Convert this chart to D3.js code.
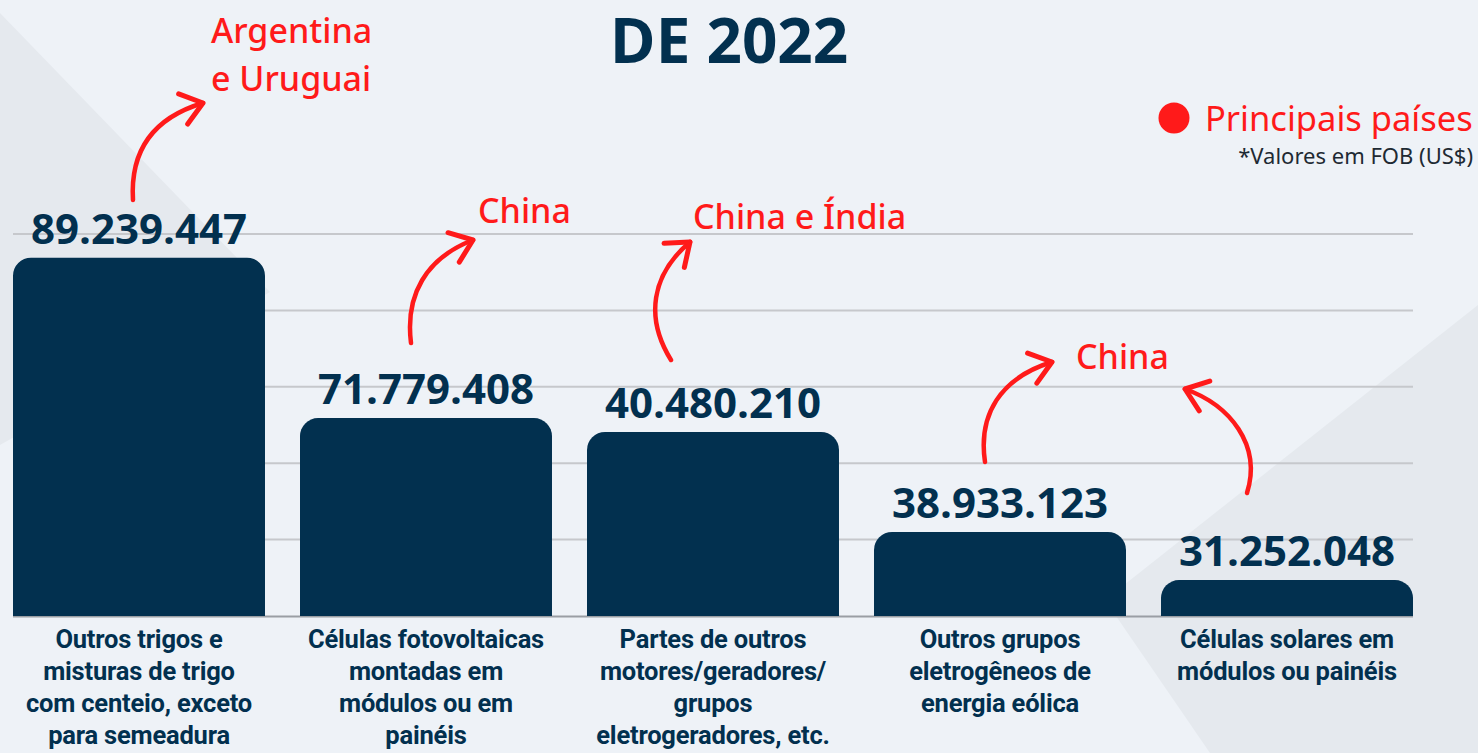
<!DOCTYPE html>
<html>
<head>
<meta charset="utf-8">
<script src="https://cdn.jsdelivr.net/npm/d3@7"></script>
<style>
html, body { margin: 0; padding: 0; background: #eef2f7; }
svg { display: block; }
</style>
</head>
<body>
<svg id="chart" width="1478" height="753"></svg>
<script>
"use strict";

// --- data ---
var categories = [
    'Outros trigos e\nmisturas de trigo\ncom centeio, exceto\npara semeadura',
    'Células fotovoltaicas\nmontadas em\nmódulos ou em\npainéis',
    'Partes de outros\nmotores/geradores/\ngrupos\neletrogeradores, etc.',
    'Outros grupos\neletrogêneos de\nenergia eólica',
    'Células solares em\nmódulos ou painéis'
];
var values = [89239447, 71779408, 40480210, 38933123, 31252048];
var countries = ['Argentina\ne Uruguai', 'China', 'China e Índia', 'China', 'China'];
var gridTicks = [0, 1, 2, 3, 4, 5];

var NAVY = '#02304f';
var RED = '#ff1a1a';

var svg = d3.select('#chart');

// background shading
svg.append('rect').attr('width', 1478).attr('height', 753).attr('fill', '#eef2f7');
svg.append('path').attr('d', 'M0,13L270,292L0,445Z').attr('fill', '#e5e9ee');
svg.append('path').attr('d', 'M1478,305L1105,600L1210,753L1478,753Z').attr('fill', '#e5e9ee');

// the bars are not drawn to scale in the original, so values go through a
// piecewise display scale (value -> grid level) before the pixel scale
var sorted = values.slice().sort(d3.ascending);
var level = d3.scaleLinear()
    .domain([0].concat(sorted))
    .range([0, 0.47, 1.10, 2.41, 2.59, 4.69]);

var x = d3.scaleBand()
    .domain(d3.range(categories.length))
    .range([13, 1413])
    .paddingInner(0.122)
    .paddingOuter(0);

var y = d3.scaleLinear().domain([0, 5]).range([616, 234]);

// grid
svg.append('g')
    .selectAll('line')
    .data(gridTicks.slice(1))
    .join('line')
        .attr('x1', 13).attr('x2', 1413)
        .attr('y1', function(d) { return y(d); })
        .attr('y2', function(d) { return y(d); })
        .attr('stroke', '#c6c8cc')
        .attr('stroke-width', 2);

svg.append('line')
    .attr('x1', 13).attr('x2', 1413)
    .attr('y1', y(0) + 0.5).attr('y2', y(0) + 0.5)
    .attr('stroke', '#9a9ea4')
    .attr('stroke-width', 2);

function topRounded(x0, y0, w, y1, r) {
    return 'M' + x0 + ',' + y1 +
        'V' + (y0 + r) +
        'A' + r + ',' + r + ' 0 0 1 ' + (x0 + r) + ',' + y0 +
        'H' + (x0 + w - r) +
        'A' + r + ',' + r + ' 0 0 1 ' + (x0 + w) + ',' + (y0 + r) +
        'V' + y1 + 'Z';
}

// bars
svg.append('g')
    .selectAll('path')
    .data(values)
    .join('path')
        .attr('d', function(d, i) {
            return topRounded(x(i), y(level(d)), x.bandwidth(), y(0), 18);
        })
        .attr('fill', NAVY);

// value labels
var fmt = function(v) { return d3.format(',')(v).replace(/,/g, '.'); };

svg.append('g')
    .selectAll('text')
    .data(values)
    .join('text')
        .attr('x', function(d, i) { return x(i) + x.bandwidth() / 2; })
        .attr('y', function(d) { return y(level(d)) - 14; })
        .attr('text-anchor', 'middle')
        .attr('font-family', '"Open Sans", sans-serif')
        .attr('font-weight', 700)
        .attr('font-size', 42)
        .attr('fill', NAVY)
        .text(fmt);

// category labels
var cat = svg.append('g')
    .selectAll('text')
    .data(categories)
    .join('text')
        .attr('text-anchor', 'middle')
        .attr('font-family', 'Roboto, sans-serif')
        .attr('font-weight', 700)
        .attr('font-size', 25.5)
        .attr('letter-spacing', -0.2)
        .attr('fill', NAVY);

cat.selectAll('tspan')
    .data(function(d, i) {
        return d.split('\n').map(function(t) { return {text: t, i: i}; });
    })
    .join('tspan')
        .attr('x', function(d) { return x(d.i) + x.bandwidth() / 2; })
        .attr('y', function(d, j) { return 648 + j * 32; })
        .text(function(d) { return d.text; });

// title
svg.append('text')
    .attr('x', 729).attr('y', 63)
    .attr('text-anchor', 'middle')
    .attr('font-family', '"Open Sans", sans-serif')
    .attr('font-weight', 700)
    .attr('font-size', 62)
    .attr('fill', NAVY)
    .text('DE 2022');

// legend
svg.append('circle').attr('cx', 1174).attr('cy', 118).attr('r', 15.5).attr('fill', RED);
svg.append('text')
    .attr('x', 1205).attr('y', 131)
    .attr('font-family', '"Noto Sans", sans-serif')
    .attr('font-size', 34.5)
    .attr('fill', RED)
    .text('Principais países');
svg.append('text')
    .attr('x', 1473).attr('y', 164)
    .attr('text-anchor', 'end')
    .attr('font-family', '"Noto Sans", sans-serif')
    .attr('font-size', 22)
    .attr('fill', '#1e2a33')
    .text('*Valores em FOB (US$)');

// country notes: text offset from bar centre, arrow as cubic offsets from bar centre
var notes = [
    {text: true, dx: 72, ty: 43, arrow: [[-6, 200], [-9, 150], [14, 118], [64, 103]]},
    {text: true, dx: 52, ty: 223, arrow: [[-15, 343], [-21, 295], [0, 258], [47, 240]]},
    {text: true, dx: -20, ty: 229, arrow: [[-42, 360], [-68, 318], [-62, 275], [-23, 242]]},
    {text: true, dx: 76, ty: 369, arrow: [[-15, 462], [-22, 415], [0, 378], [52, 362]]},
    {text: false, dx: 0, ty: 0, arrow: [[-40, 493], [-25, 445], [-57, 405], [-102, 389]]}
];

var noteG = svg.append('g');

notes.forEach(function(n, i) {
    var cx = x(i) + x.bandwidth() / 2;
    var pts = n.arrow.map(function(p) { return [cx + p[0], p[1]]; });

    if (n.text) {
        var t = noteG.append('text')
            .attr('font-family', '"Noto Sans", sans-serif')
            .attr('font-weight', 500)
            .attr('font-size', 34)
            .attr('fill', RED);
        t.selectAll('tspan')
            .data(countries[i].split('\n'))
            .join('tspan')
                .attr('x', cx + n.dx)
                .attr('y', function(d, j) { return n.ty + j * 48; })
                .text(function(d) { return d; });
    }

    var p = d3.path();
    p.moveTo(pts[0][0], pts[0][1]);
    p.bezierCurveTo(pts[1][0], pts[1][1], pts[2][0], pts[2][1], pts[3][0], pts[3][1]);
    noteG.append('path')
        .attr('d', p.toString())
        .attr('fill', 'none')
        .attr('stroke', RED)
        .attr('stroke-width', 4.5)
        .attr('stroke-linecap', 'round');

    var tip = pts[3];
    var back = Math.atan2(pts[2][1] - tip[1], pts[2][0] - tip[0]);
    var len = 26;
    var head = d3.path();
    head.moveTo(tip[0] + len * Math.cos(back + 0.65), tip[1] + len * Math.sin(back + 0.65));
    head.lineTo(tip[0], tip[1]);
    head.lineTo(tip[0] + len * Math.cos(back - 0.65), tip[1] + len * Math.sin(back - 0.65));
    noteG.append('path')
        .attr('d', head.toString())
        .attr('fill', 'none')
        .attr('stroke', RED)
        .attr('stroke-width', 5)
        .attr('stroke-linecap', 'round')
        .attr('stroke-linejoin', 'round');
});
</script>
</body>
</html>
